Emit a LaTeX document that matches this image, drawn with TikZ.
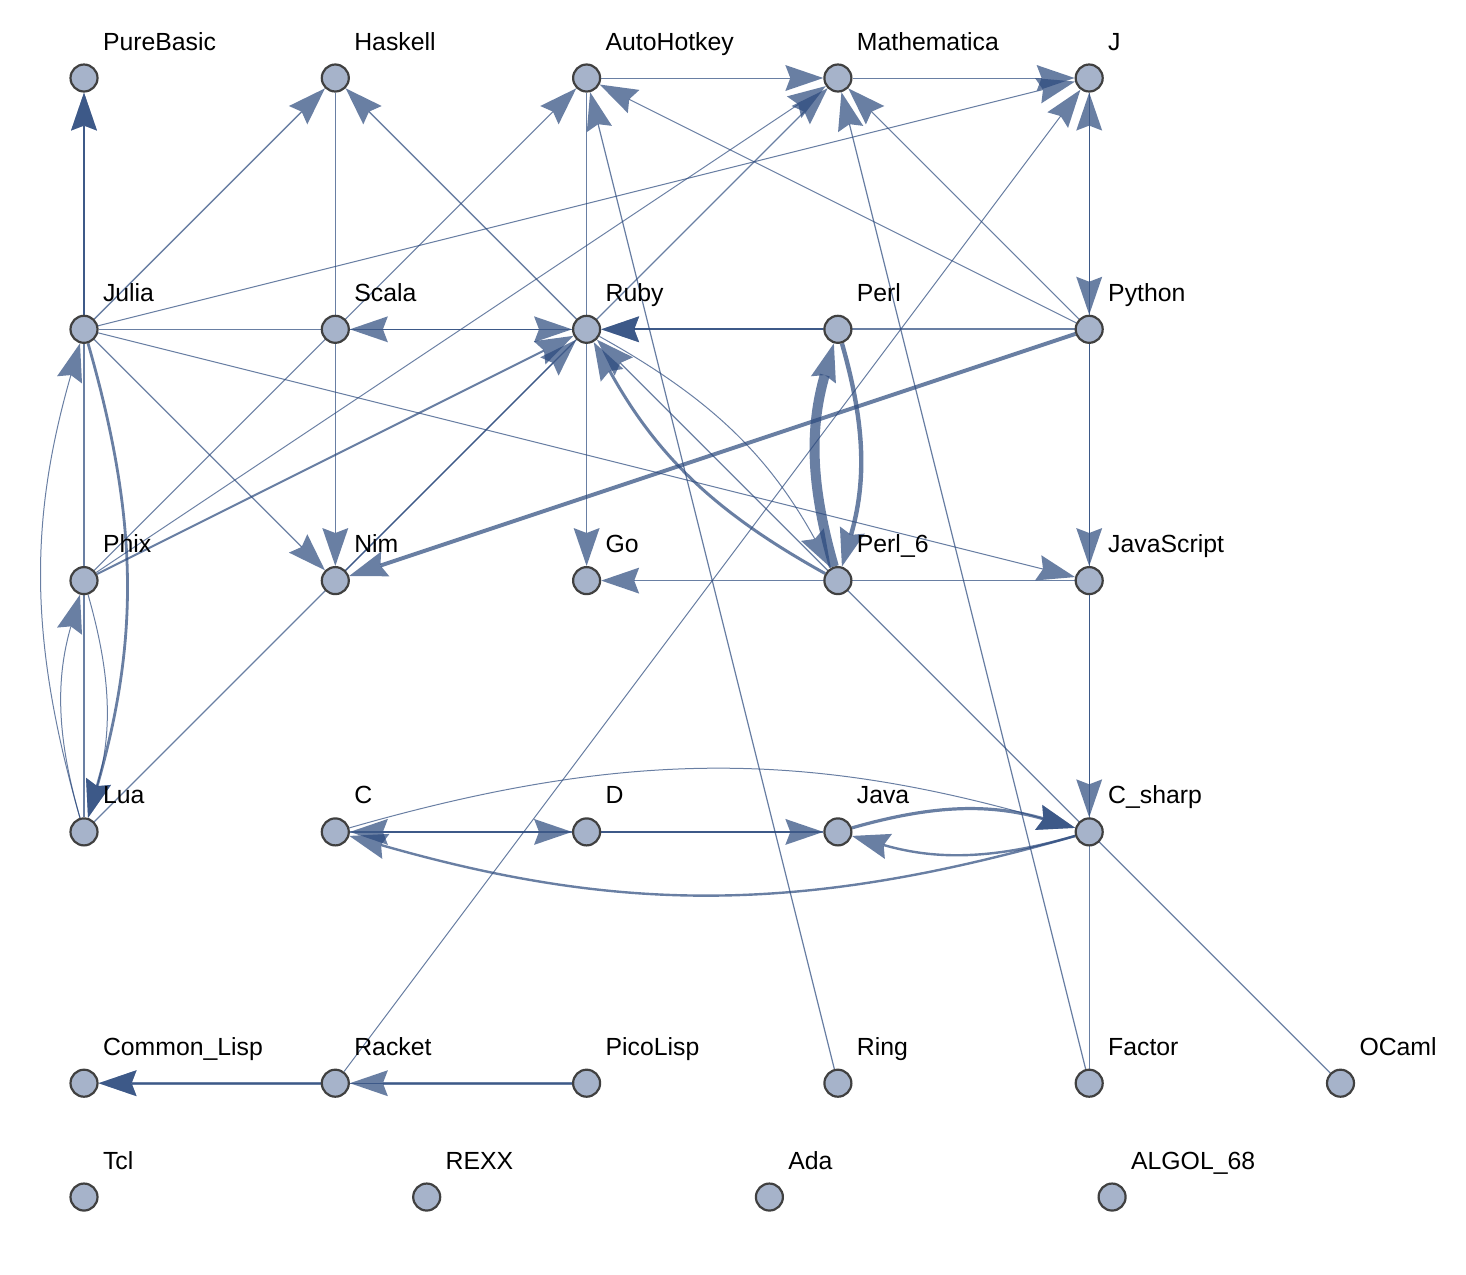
\documentclass[tikz,border=0pt]{standalone}
\usepackage{fontspec}
\setmainfont{Liberation Sans}
\usetikzlibrary{arrows.meta,backgrounds}
\definecolor{edgeblue}{RGB}{42,72,124}
\definecolor{vtxfill}{RGB}{166,179,202}
\definecolor{vtxline}{RGB}{64,64,64}
\tikzset{
  vtx/.style={circle,draw=vtxline,fill=vtxfill,line width=1.1pt,minimum size=13.5pt,inner sep=0pt},
  lbl/.style={anchor=base west,inner sep=0pt,font=\fontsize{12.4}{14}\selectfont},
  e/.style={draw=edgeblue,opacity=0.7,line width=0.5pt,
    -{Stealth[length=19pt,width=13pt,inset=2.5pt,line width=0pt]}},
}
\begin{document}
\begin{tikzpicture}[x=125.65pt,y=125.65pt]
\useasboundingbox (-0.3343,0.3104) rectangle (5.4994,-4.7593);
% vertices and their names
\foreach \n/\x/\y/\t in {purebasic/0/0/PureBasic, haskell/1/0/Haskell, autohotkey/2/0/AutoHotkey,
    mathematica/3/0/Mathematica, j/4/0/J,
    julia/0/-1/Julia, scala/1/-1/Scala, ruby/2/-1/Ruby, perl/3/-1/Perl, python/4/-1/Python,
    phix/0/-2/Phix, nim/1/-2/Nim, go/2/-2/Go, perl6/3/-2/Perl\_6, javascript/4/-2/JavaScript,
    lua/0/-3/Lua, c/1/-3/C, d/2/-3/D, java/3/-3/Java, csharp/4/-3/C\_sharp,
    commonlisp/0/-4/Common\_Lisp, racket/1/-4/Racket, picolisp/2/-4/PicoLisp,
    ring/3/-4/Ring, factor/4/-4/Factor, ocaml/5/-4/OCaml,
    tcl/0/-4.453/Tcl, rexx/1.3637/-4.453/REXX, ada/2.7274/-4.453/Ada, algol/4.0911/-4.453/ALGOL\_68} {
  \node[vtx] (\n) at (\x,\y) {};
  \node[lbl] (\n-t) at ([shift={(9.3pt,14pt)}]\n.center) {\t};
}
% edges
\begin{scope}[on background layer]
\draw[e,line width=0.8pt] (julia) -- (purebasic);
\draw[e,line width=0.7pt] (lua) -- (purebasic);
\draw[e,line width=0.7pt] (julia) -- (haskell);
\draw[e,line width=0.7pt] (ruby) -- (haskell);
\draw[e,line width=0.6pt] (haskell) -- (nim);
\draw[e] (autohotkey) -- (mathematica);
\draw[e] (mathematica) -- (j);
\draw[e] (phix) -- (autohotkey);
\draw[e] (autohotkey) -- (go);
\draw[e,line width=0.6pt] (ring) -- (autohotkey);
\draw[e] (python) -- (autohotkey);
\draw[e] (phix) -- (mathematica);
\draw[e,line width=0.6pt] (lua) -- (mathematica);
\draw[e] (python) -- (mathematica);
\draw[e,line width=0.6pt] (factor) -- (mathematica);
\draw[e] (julia) -- (j);
\draw[e] (racket) -- (j);
\draw[e,line width=0.6pt] (factor) -- (j);
\draw[e,line width=0.6pt] (j) -- (python);
\draw[e] (julia) -- (ruby);
\draw[e,line width=0.7pt] (ruby) -- (scala);
\draw[e,line width=1pt] (perl) -- (ruby);
\draw[e,line width=0.9pt] (python) -- (ruby);
\draw[e,line width=1pt] (phix) -- (ruby);
\draw[e,line width=0.6pt] (nim) -- (ruby);
\draw[e,line width=1.5pt] (perl6) to[bend left=16] (ruby);
\draw[e] (ruby) to[bend left=16] (perl6);
\draw[e,line width=0.6pt] (ocaml) -- (ruby);
\draw[e,line width=5pt] (perl6) to[bend left=16] (perl);
\draw[e,line width=2.2pt] (perl) to[bend left=16] (perl6);
\draw[e,line width=2pt] (python) -- (nim);
\draw[e,line width=0.6pt] (julia) -- (nim);
\draw[e,line width=0.6pt] (python) -- (javascript);
\draw[e,line width=0.6pt] (javascript) -- (csharp);
\draw[e] (javascript) -- (go);
\draw[e] (julia) -- (javascript);
\draw[e,line width=1.4pt] (julia) to[bend left=16] (lua);
\draw[e] (lua) to[bend left=16] (julia);
\draw[e] (lua) to[bend left=16] (phix);
\draw[e] (phix) to[bend left=16] (lua);
\draw[e,line width=0.7pt] (c) -- (d);
\draw[e,line width=0.6pt] (java) -- (c);
\draw[e,line width=0.8pt] (d) -- (java);
\draw[e] (c) to[bend left=16] (csharp);
\draw[e,line width=1.2pt] (csharp) to[bend left=16] (c);
\draw[e,line width=1.6pt] (java) to[bend left=16] (csharp);
\draw[e,line width=1.2pt] (csharp) to[bend left=16] (java);
\draw[e,line width=1.5pt] (picolisp) -- (racket);
\draw[e,line width=1.5pt] (racket) -- (commonlisp);
\draw[e,line width=0.6pt] (picolisp) -- (commonlisp);
\end{scope}
\end{tikzpicture}
\end{document}
